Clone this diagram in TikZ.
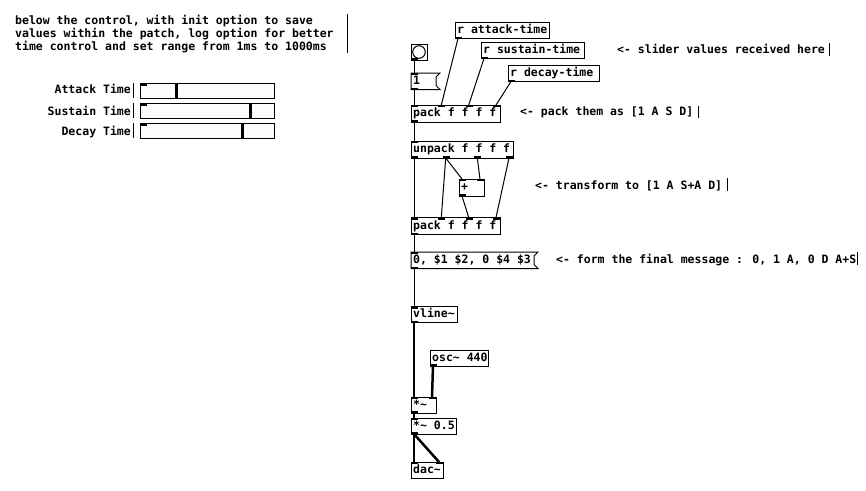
\documentclass[tikz,border=0pt]{standalone}
\usepackage{fontspec}
\usetikzlibrary{calc}
\newfontfamily\pdfont{DejaVu Sans Mono}
\newcommand{\pdfnt}{\pdfont\bfseries\fontsize{11.5}{13}\selectfont}
\definecolor{sliderbg}{HTML}{FCFCFC}
\newcommand{\pdin}[2]{\fill ($(#1.north west)+(#2,0)$) rectangle +(7,2);}
\newcommand{\pdout}[2]{\fill ($(#1.south west)+(#2,0)$) rectangle +(7,-2);}
\newcommand{\pdconn}[5]{\draw[#1] ($(#2.south west)+(#3+3,0)$) -- ($(#4.north west)+(#5+3,0)$);}
\newcommand{\pdmsgflag}[1]{\draw[line width=1pt] (#1.north west) -- ($(#1.north east)+(4,0)$) -- ($(#1.north east)+(0,4)$) -- ($(#1.south east)+(0,-4)$) -- ($(#1.south east)+(4,0)$) -- (#1.south west) -- cycle;}
\begin{document}
\begin{tikzpicture}[x=1pt,y=-1pt,
  pdbox/.style 2 args={draw, line width=1pt, rectangle, anchor=north west, outer sep=0pt, inner sep=0pt, minimum width=#1, minimum height=#2},
  pdtext/.style={anchor=west, inner xsep=2pt, inner ysep=0pt, font=\pdfnt, text height=9pt, text depth=2.5pt},
  pdcomment/.style={anchor=base west, inner sep=0pt, font=\pdfnt},
  pdlabel/.style={anchor=base east, inner sep=0pt, font=\pdfnt},
  ctl/.style={line width=1pt},
  sig/.style={line width=2.5pt},
  bar/.style={line width=1pt},
]
\useasboundingbox[fill=white] (0,0) rectangle (866,490);

% ---------- top-left comment ----------
\node[pdcomment] (c1a) at (15,24.5) {below the control, with init option to save};
\node[pdcomment] (c1b) at (15,37.5) {values within the patch, log option for better};
\node[pdcomment] (c1c) at (15,50.5) {time control and set range from 1ms to 1000ms};
\draw[bar] (347,14) -- (347,53);

% ---------- sliders ----------
\node[pdlabel] (l1) at (131,93.3) {Attack Time};
\node[pdlabel] (l2) at (131,115) {Sustain Time};
\node[pdlabel] (l3) at (131,135) {Decay Time};
\draw[bar] (133,83) -- (133,97.5);
\draw[bar] (133,103) -- (133,117.5);
\draw[bar] (133,123) -- (133,137.5);

\node[pdbox={134}{15}, fill=sliderbg] (sl1) at (140,83.3) {};
\node[pdbox={134}{15}, fill=sliderbg] (sl2) at (140,103.3) {};
\node[pdbox={134}{15}, fill=sliderbg] (sl3) at (140,123.3) {};
\foreach \s/\h in {sl1/35, sl2/109, sl3/101}{
  \fill ($(\s.north west)+(\h,0)$) rectangle +(3,15);
  \fill ($(\s.north west)+(1,0.5)$) rectangle +(6,2);
}

% ---------- receive objects ----------
\node[pdbox={94}{16.5}] (ratt) at (455,22) {};
\node[pdtext] (rattt) at (ratt.west) {r attack-time};
\node[pdbox={103}{16.5}] (rsus) at (481,42) {};
\node[pdtext] (rsust) at (rsus.west) {r sustain-time};
\node[pdbox={91}{16.5}] (rdec) at (508,65) {};
\node[pdtext] (rdect) at (rdec.west) {r decay-time};

% bang
\node[pdbox={16}{16}] (bang) at (411,44) {};
\draw[line width=1pt] (bang.center) circle (6.3);

% msg 1
\node[pdbox={25}{16.5}, draw=none] (msg1) at (411,73) {};
\pdmsgflag{msg1}
\node[pdtext] (msg1t) at (msg1.west) {1};

% pack 1
\node[pdbox={89}{17}] (pack1) at (411,105) {};
\node[pdtext] (pack1t) at (pack1.west) {pack f f f f};

% unpack
\node[pdbox={102}{17}] (unpack) at (411,141) {};
\node[pdtext] (unpackt) at (unpack.west) {unpack f f f f};

% plus
\node[pdbox={25}{17}] (plus) at (459,179) {};
\node[pdtext] (plust) at (plus.west) {+};

% pack 2
\node[pdbox={89}{17}] (pack2) at (411,217.5) {};
\node[pdtext] (pack2t) at (pack2.west) {pack f f f f};

% msg 2
\node[pdbox={123}{16.5}, draw=none] (msg2) at (411,252) {};
\pdmsgflag{msg2}
\node[pdtext] (msg2t) at (msg2.west) {0, \$1 \$2, 0 \$4 \$3};

% audio chain
\node[pdbox={46}{16}] (vline) at (411,306.5) {};
\node[pdtext] (vlinet) at (vline.west) {vline\char`\~};
\node[pdbox={58}{16}] (osc) at (430,350) {};
\node[pdtext] (osct) at (osc.west) {osc\char`\~{} 440};
\node[pdbox={25}{16}] (mul) at (411,397) {};
\node[pdtext] (mult) at (mul.west) {*\char`\~};
\node[pdbox={45}{16}] (mul2) at (411,418) {};
\node[pdtext] (mul2t) at (mul2.west) {*\char`\~{} 0.5};
\node[pdbox={32}{16}] (dac) at (411,462) {};
\node[pdtext] (dact) at (dac.west) {dac\char`\~};

% ---------- right comments ----------
\node[pdcomment] (c2) at (617,53) {<- slider values received here};
\draw[bar] (829,43) -- (829,56);
\node[pdcomment] (c3) at (520,115.5) {<- pack them as [1 A S D]};
\draw[bar] (698,106) -- (698,118);
\node[pdcomment] (c4) at (535,189) {<- transform to [1 A S+A D]};
\draw[bar] (727,178) -- (727,191);
\node[pdcomment] (c5) at (556,263.5) {<- form the final message : 0, 1 A, 0 D A+S};
\draw[bar] (857,252) -- (857,265);

% ---------- inlet / outlet marks ----------
\pdout{ratt}{0} \pdout{rsus}{0} \pdout{rdec}{0}
\pdout{bang}{0}
\pdin{msg1}{0} \pdout{msg1}{0}
\foreach \o in {0,27.3,54.7,82}{\pdin{pack1}{\o} \pdin{pack2}{\o}}
\pdout{pack1}{0} \pdout{pack2}{0}
\pdin{unpack}{0}
\foreach \o in {0,31.7,63.3,95}{\pdout{unpack}{\o}}
\pdin{plus}{0} \pdin{plus}{18} \pdout{plus}{0}
\pdin{msg2}{0} \pdout{msg2}{0}
\pdin{vline}{0} \pdout{vline}{0}
\pdout{osc}{0}
\pdin{mul}{0} \pdin{mul}{18} \pdout{mul}{0}
\pdin{mul2}{0} \pdout{mul2}{0}
\pdin{dac}{0} \pdin{dac}{25}

% ---------- control connections ----------
\pdconn{ctl}{ratt}{0}{pack1}{27.3}
\pdconn{ctl}{rsus}{0}{pack1}{54.7}
\pdconn{ctl}{rdec}{0}{pack1}{82}
\pdconn{ctl}{bang}{0}{msg1}{0}
\pdconn{ctl}{msg1}{0}{pack1}{0}
\pdconn{ctl}{pack1}{0}{unpack}{0}
\pdconn{ctl}{unpack}{0}{pack2}{0}
\pdconn{ctl}{unpack}{31.7}{pack2}{27.3}
\pdconn{ctl}{unpack}{31.7}{plus}{0}
\pdconn{ctl}{unpack}{63.3}{plus}{18}
\pdconn{ctl}{plus}{0}{pack2}{54.7}
\pdconn{ctl}{unpack}{95}{pack2}{82}
\pdconn{ctl}{pack2}{0}{msg2}{0}
\pdconn{ctl}{msg2}{0}{vline}{0}

% ---------- signal connections ----------
\pdconn{sig}{vline}{0}{mul}{0}
\pdconn{sig}{osc}{0}{mul}{18}
\pdconn{sig}{mul}{0}{mul2}{0}
\pdconn{sig}{mul2}{0}{dac}{0}
\pdconn{sig}{mul2}{0}{dac}{25}
\end{tikzpicture}
\end{document}
